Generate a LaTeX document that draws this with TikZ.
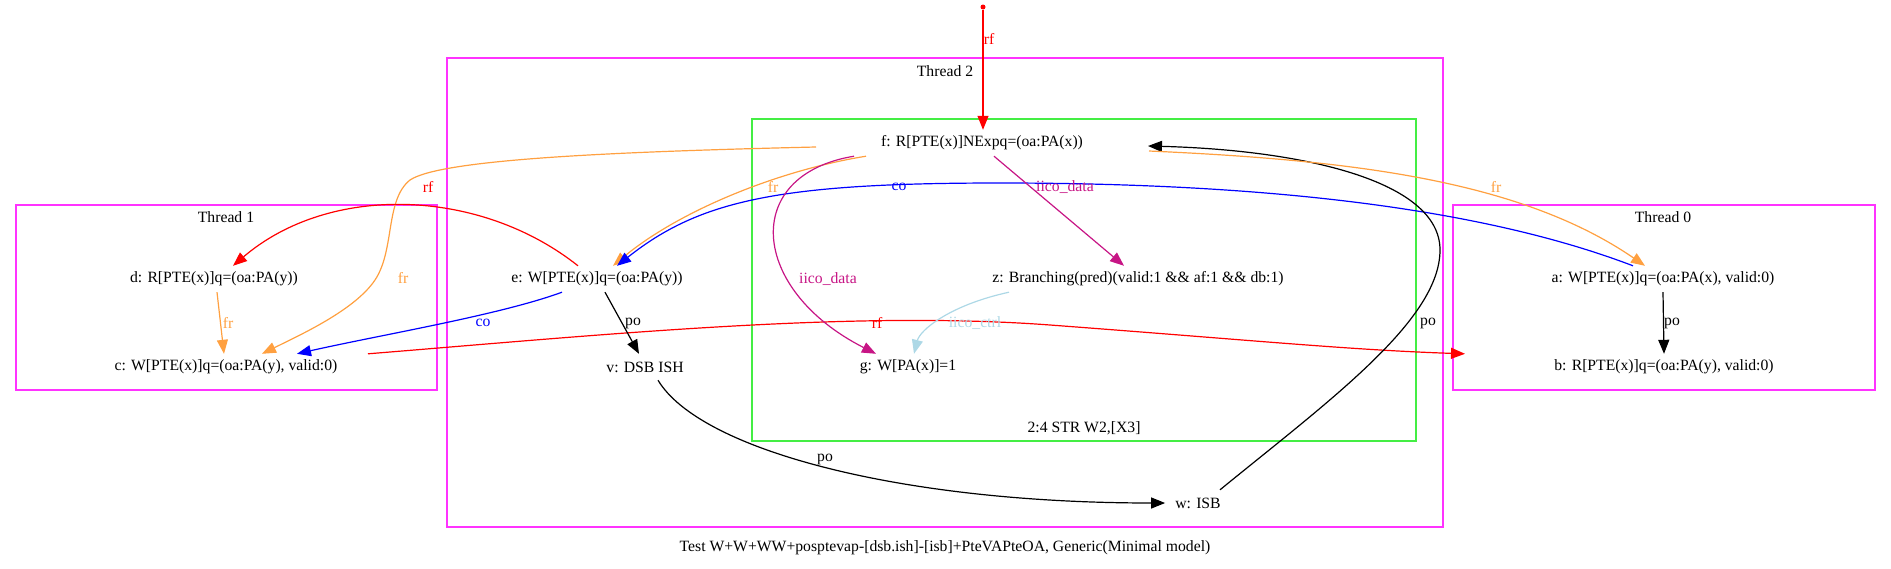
\documentclass[tikz,border=0pt]{standalone}
\usepackage{fontspec}
\setmainfont{Liberation Serif}
\usetikzlibrary{arrows.meta}
\definecolor{thrmag}{HTML}{FF33FF}
\definecolor{grpgreen}{HTML}{44EE44}
\definecolor{frorange}{HTML}{FFA040}
\definecolor{iicomag}{HTML}{C71585}
\definecolor{iicoblue}{HTML}{ADD8E6}
\tikzset{
  evt/.style={inner xsep=0pt, inner ysep=0pt, minimum height=26pt},
  lbl/.style={inner sep=0pt},
  rel/.style={line width=1.2pt, -{Triangle[length=14pt,width=11pt]}},
  frame/.style={line width=1.3pt},
}
\begin{document}
\begin{tikzpicture}[x=1pt, y=-1pt, font=\fontsize{15.7}{18}\selectfont]
    \useasboundingbox (0,0) rectangle (1891,568);
    % threads
    \draw[frame, thrmag]   (16,205) rectangle (437,390);
    \draw[frame, thrmag]   (447,58) rectangle (1443,527);
    \draw[frame, thrmag]   (1453,205) rectangle (1875,390);
    \draw[frame, grpgreen] (752,119) rectangle (1416,441);
    \node (thr1) at (226,217) {Thread 1};
    \node (thr2) at (945,71) {Thread 2};
    \node (thr0) at (1663,217) {Thread 0};
    \node (grp)  at (1084,428) {2:4 STR W2,[X3]};
    \node (cap)  at (945,548) {Test W+W+WW+posptevap-[dsb.ish]-[isb]+PteVAPteOA, Generic(Minimal model)};

    % events
    \node[circle, fill=red, inner sep=0pt, minimum size=5pt] (init) at (983,7) {};
    \node[evt] (f) at (982,143) {f: R[PTE(x)]NExpq=(oa:PA(x))};
    \node[evt] (z) at (1138,279) {z: Branching(pred)(valid:1 \&\& af:1 \&\& db:1)};
    \node[evt] (g) at (908,367) {g: W[PA(x)]=1};
    \node[evt] (e) at (597,279) {e: W[PTE(x)]q=(oa:PA(y))};
    \node[evt] (v) at (645,367) {v: DSB ISH};
    \node[evt] (w) at (1198,503) {w: ISB};
    \node[evt] (d) at (214,279) {d: R[PTE(x)]q=(oa:PA(y))};
    \node[evt] (c) at (226,367) {c: W[PTE(x)]q=(oa:PA(y), valid:0)};
    \node[evt] (a) at (1663,279) {a: W[PTE(x)]q=(oa:PA(x), valid:0)};
    \node[evt] (b) at (1664,367) {b: R[PTE(x)]q=(oa:PA(y), valid:0)};

    % relations
    \draw[rel, red] (init) -- (init |- f.north);
    \draw[rel, frorange] ([xshift=-166pt,yshift=-4pt]f.center) .. controls (600,152) and (440,160) .. (410,180)
        .. controls (385,200) and (395,250) .. (375,280) .. controls (355,310) and (300,335) .. ([xshift=36pt]c.north);
    \draw[rel, red] ([xshift=-19pt]e.north) .. controls (480,188) and (330,183) .. ([xshift=19pt]d.north);
    \draw[rel, frorange] ([xshift=-116pt]f.south) .. controls (780,170) and (680,210) .. ([xshift=16pt]e.north);
    \draw[rel, blue] ([xshift=-30pt]a.north) .. controls (1500,215) and (1300,183) .. (1000,183)
        .. controls (780,183) and (700,200) .. ([xshift=20pt]e.north);
    \draw[rel, blue] ([xshift=-35pt]e.south) .. controls (500,315) and (380,335) .. ([xshift=71pt]c.north);
    \draw[rel, red] ([xshift=142pt]c.north) .. controls (600,335) and (850,310) .. (1050,325)
        .. controls (1250,340) and (1350,350) .. ([xshift=-199pt]b.north);
    \draw[rel] ([xshift=8pt]e.south) -- ([xshift=-6pt]v.north);
    \draw[rel] ([xshift=13pt]v.south) .. controls (700,450) and (900,503) .. ([xshift=-10pt]w.west);
    \draw[rel] ([xshift=22pt]w.north) .. controls (1330,400) and (1440,320) .. (1440,250)
        .. controls (1440,180) and (1300,150) .. ([xshift=166pt,yshift=-3pt]f.center);
    \draw[rel, frorange] ([xshift=167pt,yshift=-8pt]f.center) .. controls (1350,160) and (1520,180) .. ([xshift=-18pt]a.north);
    \draw[rel, iicomag] ([xshift=12pt]f.south) -- ([xshift=-14pt]z.north);
    \draw[rel, iicomag] ([xshift=-128pt]f.south) .. controls (740,175) and (750,290) .. ([xshift=-32pt]g.north);
    \draw[rel, iicoblue] ([xshift=-129pt]z.south) .. controls (950,305) and (920,330) .. ([xshift=6pt]g.north);
    \draw[rel] (a.south) -- (b.north);
    \draw[rel, frorange] ([xshift=3pt]d.south) -- ([xshift=-2pt]c.north);

    % labels
    \node[lbl, text=red] (l-rf0) at (989,39) {rf};
    \node[lbl, text=red] (l-rf1) at (428,187) {rf};
    \node[lbl, text=frorange] (l-fr0) at (403,278) {fr};
    \node[lbl, text=frorange] (l-fr1) at (228,323) {fr};
    \node[lbl, text=frorange] (l-fr2) at (773,187) {fr};
    \node[lbl, text=blue] (l-co0) at (899,187) {co};
    \node[lbl, text=iicomag] (l-dat0) at (1065,187) {iico\_data};
    \node[lbl, text=frorange] (l-fr3) at (1496,187) {fr};
    \node[lbl, text=iicomag] (l-dat1) at (828,279) {iico\_data};
    \node[lbl, text=blue] (l-co1) at (483,323) {co};
    \node[lbl] (l-po0) at (633,323) {po};
    \node[lbl, text=red] (l-rf2) at (877,323) {rf};
    \node[lbl, text=iicoblue] (l-ctrl) at (975,323) {iico\_ctrl};
    \node[lbl] (l-po1) at (1428,323) {po};
    \node[lbl] (l-po2) at (1672,323) {po};
    \node[lbl] (l-po3) at (825,459) {po};
\end{tikzpicture}
\end{document}
